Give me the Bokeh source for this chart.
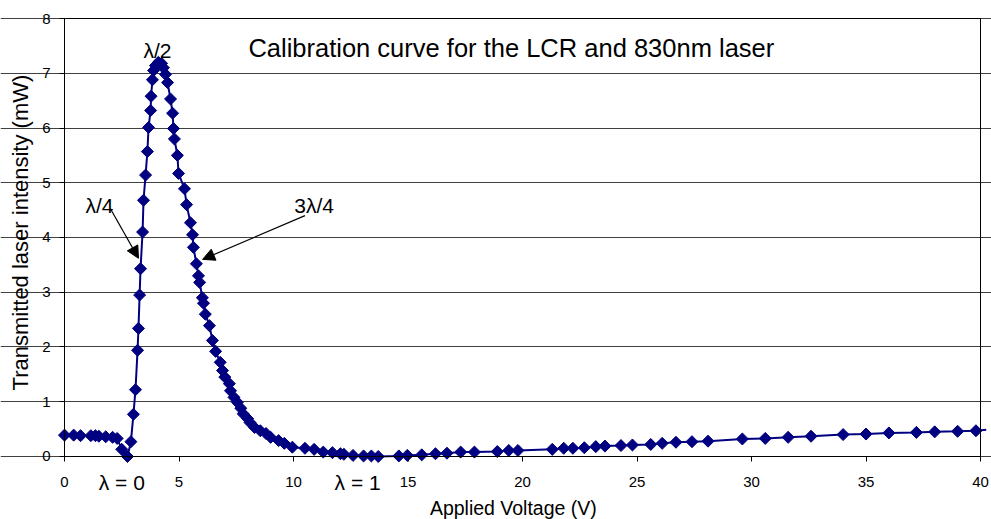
import numpy as np
from bokeh.plotting import figure
from bokeh.models import (ColumnDataSource, Range1d, FixedTicker, Label, Arrow,
                          NormalHead, LinearAxis, CDSView, BooleanFilter)
from bokeh.embed import file_html
from bokeh.resources import INLINE

# Applied voltage (V) and transmitted laser intensity (mW), in recorded order
voltage = [
    0.0, 0.4, 0.7, 1.15, 1.35, 1.5, 1.8, 2.1, 2.3, 2.5, 2.75, 2.9,
    3.01, 3.1, 3.19, 3.23, 3.28, 3.32, 3.41, 3.45, 3.54, 3.62, 3.67, 3.76,
    3.78, 3.84, 3.89, 3.97, 4.1, 4.24, 4.32, 4.41, 4.5, 4.63, 4.72, 4.76,
    4.8, 4.93, 4.98, 5.24, 5.33, 5.5, 5.59, 5.63, 5.76, 5.85, 5.9, 6.02,
    6.07, 6.15, 6.33, 6.46, 6.6, 6.8, 6.9, 7.0, 7.2, 7.25, 7.4, 7.55,
    7.7, 7.8, 8.0, 8.1, 8.3, 8.55, 8.8, 9.0, 9.35, 9.6, 9.95, 10.5,
    10.9, 11.3, 11.7, 12.05, 12.2, 12.6, 13.06, 13.4, 13.7, 14.6, 14.97, 15.6,
    16.2, 16.7, 17.3, 17.9, 18.9, 19.4, 19.8, 21.3, 21.8, 22.2, 22.7, 23.2,
    23.6, 24.3, 24.8, 25.6, 26.1, 26.7, 27.4, 28.1, 29.6, 30.6, 31.6, 32.6,
    34.0, 35.0, 36.0, 37.2, 38.0, 39.0, 39.8, 40.25,
]
intensity = [
    0.39, 0.39, 0.38, 0.38, 0.38, 0.37, 0.36, 0.35, 0.33, 0.13, 0.0, 0.27,
    0.77, 1.22, 1.94, 2.34, 2.95, 3.43, 4.1, 4.68, 5.14, 5.57, 6.01, 6.32,
    6.58, 6.88, 7.05, 7.14, 7.2, 7.18, 7.1, 6.98, 6.83, 6.53, 6.27, 5.99,
    5.8, 5.5, 5.17, 4.89, 4.6, 4.27, 4.05, 3.82, 3.52, 3.3, 3.18, 2.9,
    2.8, 2.6, 2.39, 2.12, 1.92, 1.72, 1.57, 1.45, 1.33, 1.2, 1.08, 0.99,
    0.88, 0.78, 0.69, 0.62, 0.53, 0.47, 0.42, 0.35, 0.29, 0.24, 0.17, 0.15,
    0.13, 0.08, 0.07, 0.05, 0.04, 0.02, 0.01, 0.01, 0.0, 0.01, 0.02, 0.03,
    0.05, 0.06, 0.08, 0.08, 0.09, 0.11, 0.11, 0.13, 0.15, 0.15, 0.16, 0.18,
    0.19, 0.2, 0.21, 0.22, 0.24, 0.26, 0.27, 0.28, 0.32, 0.33, 0.35, 0.37,
    0.40, 0.41, 0.43, 0.44, 0.45, 0.46, 0.47, 0.49,
]
x_ticks = [0, 5, 10, 15, 20, 25, 30, 35, 40]
y_ticks = [0, 1, 2, 3, 4, 5, 6, 7, 8]
V_MAX = 40
I_MAX = 8

FONT = "Liberation Sans"
NAVY = "#000080"

src = ColumnDataSource(data=dict(v=voltage, i=intensity))
# markers only for readings inside the plotted voltage span
in_span = CDSView(filter=BooleanFilter([v <= V_MAX for v in voltage]))

# The frame fills the whole canvas; the axes are pinned at V = 0 / I = 0
# so that every tick label, axis title and wavelength marker sits inside it.
p = figure(width=991, height=519, output_backend="svg", toolbar_location=None,
           x_range=Range1d(-2.795, 40.48), y_range=Range1d(-1.151, 8.329),
           min_border_left=0, min_border_right=0,
           min_border_top=0, min_border_bottom=0)
p.background_fill_color = "white"
p.border_fill_color = "white"
p.outline_line_color = None

p.xgrid.grid_line_color = None
p.ygrid.grid_line_color = "#404040"
p.ygrid.grid_line_width = 1
p.ygrid.bounds = (0, V_MAX)

p.line("v", "i", source=src, line_color=NAVY, line_width=2)
p.scatter("v", "i", source=src, view=in_span, marker="square",
          angle=np.pi / 4, size=8.5, fill_color=NAVY, line_color=NAVY)

# axes
p.xaxis.ticker = FixedTicker(ticks=x_ticks)
p.xaxis.fixed_location = 0
p.xaxis.bounds = (0, V_MAX)
p.yaxis.ticker = FixedTicker(ticks=y_ticks)
p.yaxis.fixed_location = 0
p.yaxis.bounds = (0, I_MAX)
for ax in (p.xaxis[0], p.yaxis[0]):
    ax.axis_line_color = "black"
    ax.major_tick_line_color = "black"
    ax.major_tick_out = 5
    ax.major_tick_in = 0
    ax.minor_tick_line_color = None
    ax.major_label_text_font = FONT
    ax.major_label_text_font_size = "15px"
    ax.major_label_text_color = "black"
p.xaxis.major_label_standoff = 16
p.yaxis.major_label_standoff = 9

# plot-area border on the right and top
def edge_axis(location, bounds):
    return LinearAxis(ticker=FixedTicker(ticks=[]), fixed_location=location,
                      bounds=bounds, axis_line_color="black",
                      major_tick_out=0, major_tick_in=0, minor_tick_out=0,
                      minor_tick_in=0, major_label_standoff=0,
                      major_label_text_font_size="0px")

p.add_layout(edge_axis(V_MAX, (0, I_MAX)), "right")
p.add_layout(edge_axis(I_MAX, (0, V_MAX)), "above")

# annotations
def note(x, y, text, size, align="center", angle=0.0):
    p.add_layout(Label(x=x, y=y, text=text, text_font=FONT, text_font_size=size,
                       text_baseline="middle", text_align=align, angle=angle,
                       text_color="black"))

note(8.03, 7.47, "Calibration curve for the LCR and 830nm laser", "25.5px", "left")
note(4.06, 7.42, "λ/2", "21px")
note(1.53, 4.58, "λ/4", "21px")
note(10.9, 4.58, "3λ/4", "21px")
note(2.5, -0.475, "λ = 0", "21px")
note(12.8, -0.475, "λ = 1", "21px")
note(19.6, -0.95, "Applied Voltage (V)", "19.5px")
note(-1.92, 4.09, "Transmitted laser intensity (mW)", "22px", angle=np.pi / 2)

head = dict(size=12, fill_color="black", line_color="black")
p.add_layout(Arrow(end=NormalHead(**head), x_start=2.0, y_start=4.53,
                   x_end=3.23, y_end=3.62, line_color="black", line_width=1.2))
p.add_layout(Arrow(end=NormalHead(**head), x_start=10.5, y_start=4.4,
                   x_end=6.03, y_end=3.6, line_color="black", line_width=1.2))

open("out.html", "w").write(file_html(p, INLINE))
